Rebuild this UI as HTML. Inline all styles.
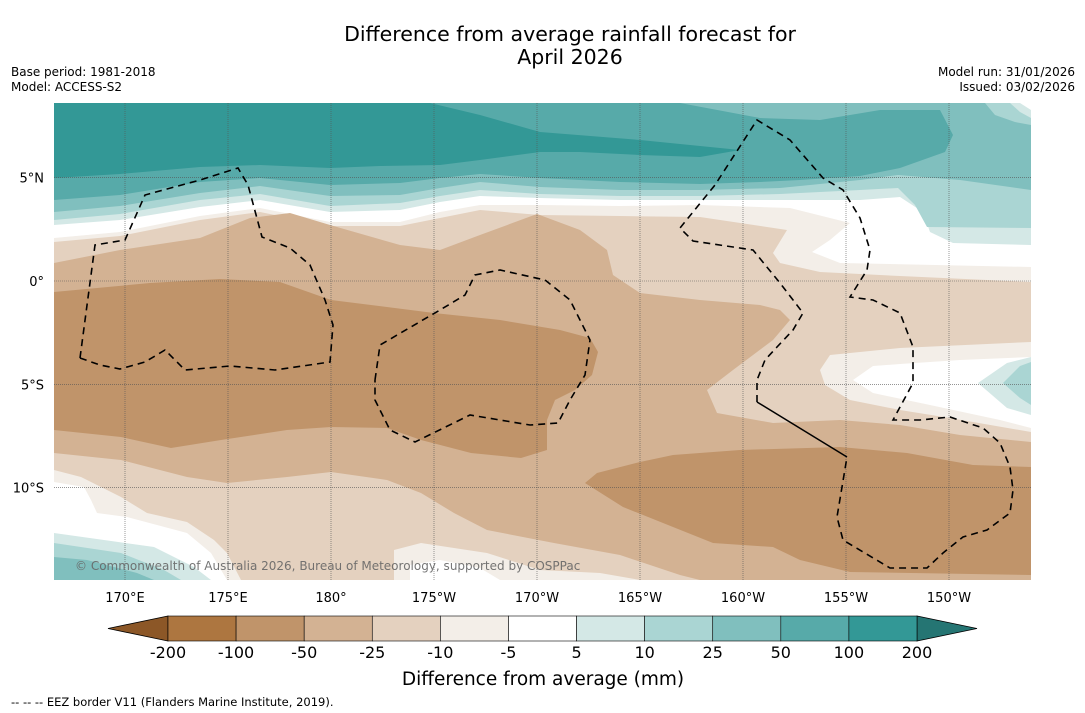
<!DOCTYPE html>
<html><head><meta charset="utf-8">
<style>
html,body{margin:0;padding:0;background:#fff;width:1085px;height:713px;overflow:hidden;font-family:"DejaVu Sans","Liberation Sans",sans-serif;}
svg{position:absolute;left:0;top:0;}
text{font-family:"DejaVu Sans","Liberation Sans",sans-serif;}
</style></head>
<body>
<svg id="chart" width="1085" height="713" viewBox="0 0 1085 713">
<text x="570" y="41" font-size="20.5" text-anchor="middle" fill="#000">Difference from average rainfall forecast for</text>
<text x="570" y="64" font-size="20.5" text-anchor="middle" fill="#000">April 2026</text>
<text x="11" y="76" font-size="12" fill="#000">Base period: 1981-2018</text>
<text x="11" y="91" font-size="12" fill="#000">Model: ACCESS-S2</text>
<text x="1075" y="76" font-size="12" text-anchor="end" fill="#000">Model run: 31/01/2026</text>
<text x="1075" y="91" font-size="12" text-anchor="end" fill="#000">Issued: 03/02/2026</text>

<defs><clipPath id="mapclip"><rect x="54" y="103" width="977" height="477"/></clipPath></defs>
<g clip-path="url(#mapclip)">
  <rect x="54" y="103" width="977" height="477" fill="#e4d1bf"/>
  <polygon fill="#f3eee8" points="54,103 1031,103 1031,282 900,276 820,272 780,263 773,253 787,230 700,217 620,216 540,215 480,210 440,218 400,226 330,226 260,212 200,220 120,236 54,242"/>
  <polygon fill="#ffffff" points="54,103 1031,103 1031,267 840,263 812,252 830,240 850,223 790,208 700,205 620,206 540,205 480,205 440,212 400,222 330,222 260,208 200,216 120,232 54,238"/>
  <polygon fill="#d4e8e6" points="54,103 1031,103 1031,245 953,243 930,232 923,212 900,197 860,200 780,200 700,200 620,200 540,198 480,196 440,202 400,210 330,212 260,200 200,207 120,220 54,225"/>
  <polygon fill="#aad5d3" points="54,103 1031,103 1031,228 927,227 915,205 898,188 860,190 780,194 700,196 620,196 540,194 480,190 440,196 400,203 330,206 260,194 200,200 120,214 54,220"/>
  <polygon fill="#d4e8e6" points="1010,103 1031,103 1031,118 1020,112"/>
  <polygon fill="#ffffff" points="1020,103 1031,103 1031,110"/>
  <polygon fill="#80bfbe" points="54,103 985,103 995,115 1015,122 1031,125 1031,190 960,180 898,175 860,180 780,188 700,190 620,190 540,187 480,182 440,188 400,195 330,196 260,186 200,193 120,206 54,212"/>
  <polygon fill="#57aaa9" points="54,103 680,103 760,118 820,120 880,110 940,110 953,135 945,152 900,168 860,176 800,180 760,182 700,184 620,182 540,178 480,174 440,178 400,183 330,185 260,178 200,182 120,195 54,200"/>
  <polygon fill="#339896" points="54,103 430,103 480,115 540,132 640,140 740,150 700,157 640,155 580,152 540,152 480,160 440,165 380,166 330,168 260,165 200,167 120,174 54,178"/>
  <polygon fill="#d3b293" points="54,263 120,250 200,238 250,218 290,213 330,225 400,245 440,250 480,235 537,214 580,230 607,250 613,275 640,293 700,300 760,305 780,310 790,320 773,340 733,370 707,390 717,413 773,423 840,420 900,425 960,435 1031,442 1031,580 700,580 680,575 620,555 554,543 487,530 454,513 421,493 387,480 331,472 287,477 227,483 187,477 121,460 54,453"/>
  <polygon fill="#c0946a" points="54,292 150,283 220,279 280,282 331,300 434,313 500,320 560,330 590,338 598,352 592,375 575,390 555,400 547,420 547,450 521,458 471,453 421,440 387,428 331,427 287,430 221,440 171,448 121,437 54,430"/>
  <polygon fill="#c0946a" points="585,483 597,473 640,462 673,455 740,450 840,447 907,453 973,465 1031,467 1031,575 850,572 800,560 773,547 713,543 673,527 623,507"/>
  <polygon fill="#f3eee8" points="1031,342 900,348 830,355 820,370 825,385 850,400 900,410 950,418 1031,432"/>
  <polygon fill="#ffffff" points="1031,357 960,360 900,364 873,366 853,380 873,393 930,405 1000,420 1031,428"/>
  <polygon fill="#d4e8e6" points="1031,357 1007,363 978,383 1007,408 1031,415"/>
  <polygon fill="#aad5d3" points="1031,362 1020,366 1003,383 1020,398 1031,405"/>
  <polygon fill="#f3eee8" points="54,470 81,477 121,497 147,513 187,522 214,540 227,553 241,580 54,580"/>
  <polygon fill="#ffffff" points="54,482 84,487 91,500 97,513 127,517 187,533 211,553 227,580 54,580"/>
  <polygon fill="#d4e8e6" points="54,533 104,540 154,547 194,567 211,580 54,580"/>
  <polygon fill="#aad5d3" points="54,543 121,553 164,570 181,580 54,580"/>
  <polygon fill="#80bfbe" points="54,557 87,560 137,573 154,580 54,580"/>
  <polygon fill="#f3eee8" points="394,550 421,543 487,553 540,570 600,573 640,580 394,580"/>
  <polygon fill="#ffffff" points="410,565 440,560 480,568 500,580 410,580"/>
  <g id="grid"></g>
  <g fill="none" stroke="#000" stroke-width="1.6" stroke-dasharray="7,5">
    <polyline points="80,358 95,245 125,240 145,195 200,180 238,168 248,185 262,237 290,248 310,265 325,300 333,325 330,362 275,370 230,366 185,370 165,350 145,362 120,369 100,365 80,358"/>
    <polyline points="375,380 380,345 440,310 465,295 475,275 500,270 545,280 570,300 590,340 585,375 570,400 558,423 530,425 470,415 415,442 390,430 375,400 375,380"/>
    <polyline points="757,402 757,380 765,360 777,347 793,330 803,313 780,283 753,250 693,241 680,228 715,185 757,120 790,140 823,178 843,190 860,218 870,250 867,270 850,297 873,300 900,313 913,347 913,383 893,420 920,420 950,417 983,428 1000,443 1010,467 1013,490 1010,513 987,530 963,537 943,553 927,568 890,568 843,540 837,517 847,457"/>
  </g>
  <polyline fill="none" stroke="#000" stroke-width="1.5" points="757,402 847,457"/>
  <text x="75" y="570" font-size="12" fill="#666" fill-opacity="0.9">© Commonwealth of Australia 2026, Bureau of Meteorology, supported by COSPPac</text>
</g>
<g id="axes"></g>
<g id="cbar"></g>
<text x="543" y="685" font-size="18.5" text-anchor="middle" fill="#000">Difference from average (mm)</text>
<text x="11" y="706" font-size="11.5" fill="#000">--  --  -- EEZ border V11 (Flanders Marine Institute, 2019).</text>
</svg>
<script>
const lonTicks = [170, 175, 180, 185, 190, 195, 200, 205, 210];
const lonLabels = ["170°E","175°E","180°","175°W","170°W","165°W","160°W","155°W","150°W"];
const latTicks = [5, 0, -5, -10];
const latLabels = ["5°N","0°","5°S","10°S"];
const cbLevels = ["-200","-100","-50","-25","-10","-5","5","10","25","50","100","200"];
const cbColors = ["#ad7640","#c0946a","#d3b293","#e4d1bf","#f3eee8","#ffffff","#d4e8e6","#aad5d3","#80bfbe","#57aaa9","#339896"];
const cbExtendLow = "#8c5727", cbExtendHigh = "#257573";

const NS = "http://www.w3.org/2000/svg";
function xLon(l){ return 125 + (l - 170) * 20.6; }
function yLat(l){ return 281 - l * 20.66; }
function mk(tag, attrs, parent){ const e = document.createElementNS(NS, tag); for (const k in attrs) e.setAttribute(k, attrs[k]); parent.appendChild(e); return e; }

const grid = document.getElementById('grid');
const axes = document.getElementById('axes');
lonTicks.forEach((l, i) => {
  const x = xLon(l);
  const g = mk('line', {x1:x, x2:x, y1:103, y2:580, stroke:'#555', 'stroke-width':0.6, 'stroke-dasharray':'1,1'}, grid);
  
  
  const t = mk('text', {x:x, y:602, 'font-size':13, 'text-anchor':'middle', fill:'#000'}, axes);
  t.textContent = lonLabels[i];
  
  
});
latTicks.forEach((l, i) => {
  const y = yLat(l);
  const g = mk('line', {x1:54, x2:1031, y1:y, y2:y, stroke:'#555', 'stroke-width':0.6, 'stroke-dasharray':'1,1'}, grid);
  
  
  const t = mk('text', {x:44, y:y+5, 'font-size':13, 'text-anchor':'end', fill:'#000'}, axes);
  t.textContent = latLabels[i];
  
  
});

const cb = document.getElementById('cbar');
const cbX0 = 168, cbX1 = 917, cbY = 616, cbH = 25;
const bw = (cbX1 - cbX0) / cbColors.length;
const lo = mk('polygon', {points: `${cbX0},${cbY} ${cbX0},${cbY+cbH} 108,${cbY+cbH/2}`, fill: cbExtendLow, stroke:'#000', 'stroke-width':0.8}, cb);


const hi = mk('polygon', {points: `${cbX1},${cbY} ${cbX1},${cbY+cbH} 977,${cbY+cbH/2}`, fill: cbExtendHigh, stroke:'#000', 'stroke-width':0.8}, cb);


cbColors.forEach((c, i) => {
  const r = mk('rect', {x: cbX0 + i*bw, y: cbY, width: bw, height: cbH, fill: c, stroke:'#000', 'stroke-width':0.6}, cb);
  
  
});
cbLevels.forEach((lab, i) => {
  const t = mk('text', {x: cbX0 + i*bw, y: 658, 'font-size':16, 'text-anchor':'middle', fill:'#000'}, cb);
  t.textContent = lab;
  
  
});
</script>
</body></html>
